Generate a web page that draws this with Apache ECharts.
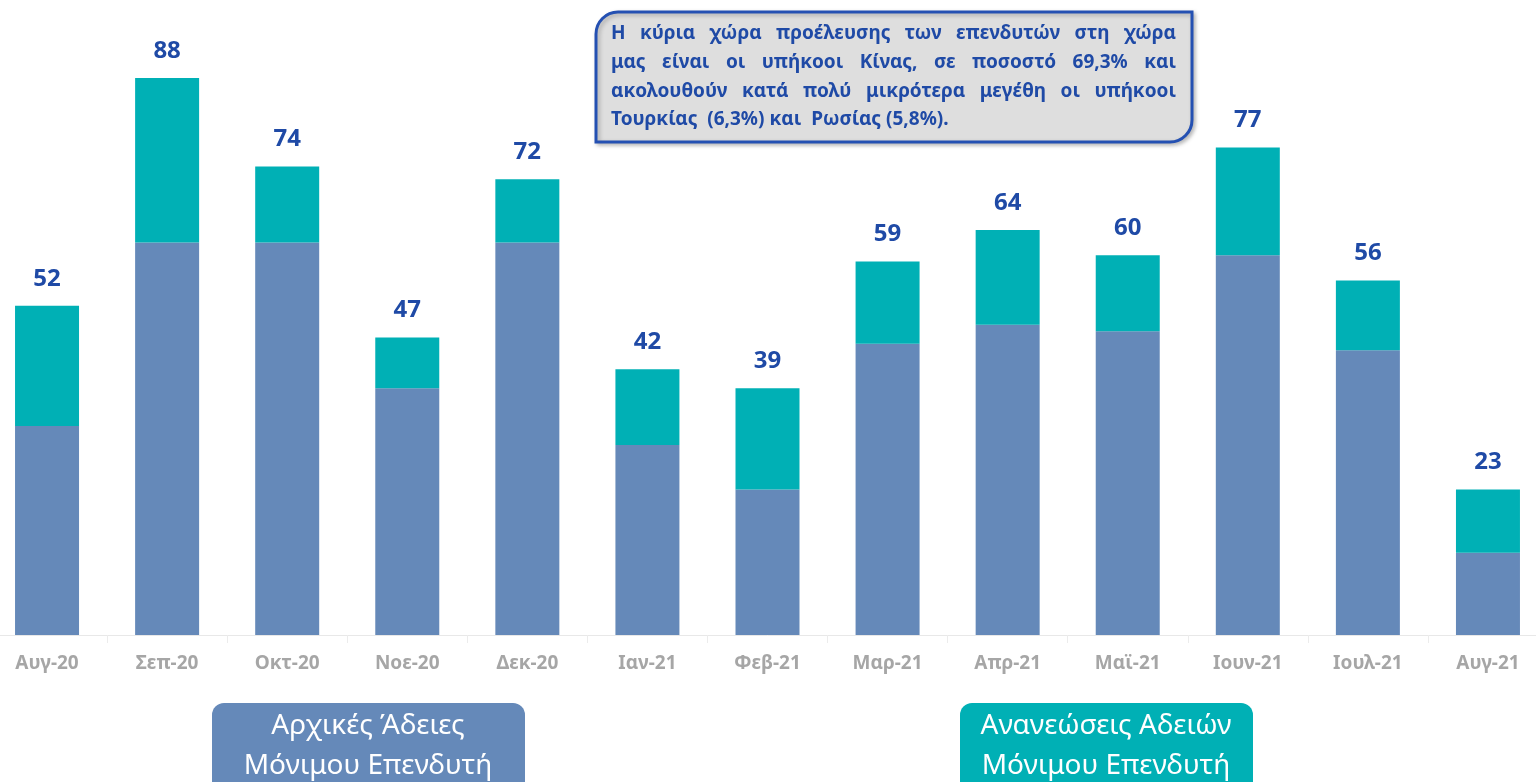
<!DOCTYPE html>
<html>
<head>
<meta charset="utf-8">
<script src="https://cdn.jsdelivr.net/npm/echarts@6/dist/echarts.min.js"></script>
<style>
  html, body { margin: 0; padding: 0; background: #fff; overflow: hidden; }
  /* the plot runs past both edges of the picture */
  #chart { width: 1561px; height: 782px; margin-left: -13px; }
</style>
</head>
<body>
<div id="chart"></div>
<script>
// μήνες
const months = ['Αυγ-20', 'Σεπ-20', 'Οκτ-20', 'Νοε-20', 'Δεκ-20', 'Ιαν-21', 'Φεβ-21',
  'Μαρ-21', 'Απρ-21', 'Μαϊ-21', 'Ιουν-21', 'Ιουλ-21', 'Αυγ-21'];
// αρχικές άδειες
const initial = [33, 62, 62, 39, 62, 30, 23, 46, 49, 48, 60, 45, 13];
// ανανεώσεις
const renewals = [19, 26, 12, 8, 10, 12, 16, 13, 15, 12, 17, 11, 10];
const totals = initial.map((v, i) => v + renewals[i]);

const noteLines = [
  'Η κύρια χώρα προέλευσης των επενδυτών στη χώρα',
  'μας είναι οι υπήκοοι Κίνας, σε ποσοστό 69,3% και',
  'ακολουθούν κατά πολύ μικρότερα μεγέθη οι υπήκοοι',
  'Τουρκίας  (6,3%) και  Ρωσίας (5,8%).'
];

const FONT = '"Noto Sans", "Open Sans", sans-serif';
const noteFont = 'bold 19px ' + FONT;
const OX = 13; // shift for graphics, since the div starts at -13px

// justified text for the note box
const ctx = document.createElement('canvas').getContext('2d');
ctx.font = noteFont;
const noteLeft = 611 + OX, noteRight = 1176 + OX;
const noteY = [34, 63, 92, 120];
const noteTexts = [];
noteLines.forEach((line, li) => {
  if (li === noteLines.length - 1) {
    noteTexts.push({
      type: 'text', x: noteLeft, y: noteY[li], z: 11,
      style: { text: line, font: noteFont, fill: '#1f4aa6', verticalAlign: 'middle' }
    });
    return;
  }
  const words = line.split(' ');
  const widths = words.map(w => ctx.measureText(w).width);
  const total = widths.reduce((a, b) => a + b, 0);
  const gap = (noteRight - noteLeft - total) / (words.length - 1);
  let x = noteLeft;
  words.forEach((w, wi) => {
    noteTexts.push({
      type: 'text', x: x, y: noteY[li], z: 11,
      style: { text: w, font: noteFont, fill: '#1f4aa6', verticalAlign: 'middle' }
    });
    x += widths[wi] + gap;
  });
});

const chart = echarts.init(document.getElementById('chart'));
chart.setOption({
  animation: false,
  grid: { left: 0, right: 0, top: 2, bottom: 147 },
  xAxis: {
    type: 'category',
    data: months,
    axisLine: { lineStyle: { color: '#e8e8e8', width: 1 } },
    axisTick: { show: true, length: 8, lineStyle: { color: '#ececec' } },
    axisLabel: { color: '#a6a6a6', fontSize: 19, fontWeight: 'bold', fontFamily: FONT, margin: 19 }
  },
  yAxis: { type: 'value', min: 0, max: 100, show: false, splitLine: { show: false } },
  series: [
    {
      name: 'Αρχικές Άδειες',
      type: 'bar',
      stack: 'a',
      barWidth: 64,
      data: initial,
      itemStyle: { color: '#6589b9' }
    },
    {
      name: 'Ανανεώσεις',
      type: 'bar',
      stack: 'a',
      barWidth: 64,
      data: renewals,
      itemStyle: { color: '#00b0b5' },
      label: {
        show: true,
        position: 'top',
        distance: 15,
        formatter: p => totals[p.dataIndex],
        color: '#1f4aa6',
        fontSize: 24,
        fontWeight: 'bold',
        fontFamily: FONT
      }
    }
  ],
  graphic: [
    {
      type: 'rect', z: 10,
      shape: { x: 596 + OX, y: 12, width: 596, height: 130, r: [22, 0, 22, 0] },
      style: { fill: '#dedede', stroke: '#2450b2', lineWidth: 3,
        shadowColor: 'rgba(0,0,0,0.25)', shadowBlur: 4, shadowOffsetX: 2, shadowOffsetY: 2 }
    },
    ...noteTexts,
    {
      type: 'rect', z: 10,
      shape: { x: 212 + OX, y: 703, width: 313, height: 100, r: 12 },
      style: { fill: '#6589b9' }
    },
    {
      type: 'text', z: 11,
      x: 368 + OX, y: 706,
      style: { text: 'Αρχικές Άδειες\nΜόνιμου Επενδυτή', font: '28px ' + FONT, fill: '#fff',
        align: 'center', lineHeight: 40 }
    },
    {
      type: 'rect', z: 10,
      shape: { x: 960 + OX, y: 703, width: 293, height: 100, r: 12 },
      style: { fill: '#00b0b5' }
    },
    {
      type: 'text', z: 11,
      x: 1106 + OX, y: 706,
      style: { text: 'Ανανεώσεις Αδειών\nΜόνιμου Επενδυτή', font: '28px ' + FONT, fill: '#fff',
        align: 'center', lineHeight: 40 }
    }
  ]
});
</script>
</body>
</html>
